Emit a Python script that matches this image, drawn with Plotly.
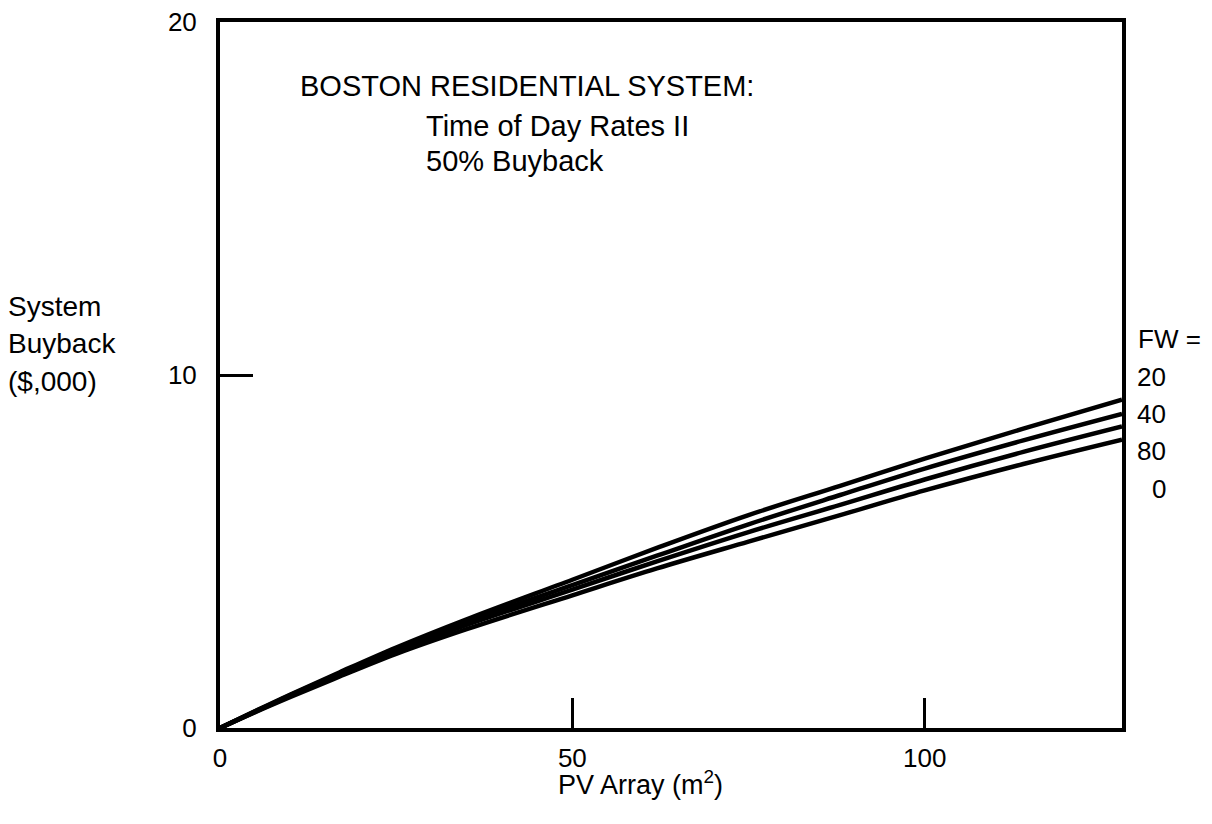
import plotly.graph_objects as go

# ---- data ----
pv_area = [0, 5, 10, 17, 25, 35, 50, 62, 75, 88, 100, 114, 128]
fw_20 = [0, 0.48, 0.95, 1.58, 2.28, 3.08, 4.20, 5.10, 6.03, 6.86, 7.63, 8.48, 9.30]
fw_40 = [0, 0.47, 0.93, 1.55, 2.23, 3.00, 4.05, 4.88, 5.77, 6.60, 7.35, 8.15, 8.90]
fw_80 = [0, 0.46, 0.91, 1.52, 2.18, 2.92, 3.92, 4.72, 5.55, 6.32, 7.04, 7.82, 8.54]
fw_0 = [0, 0.45, 0.88, 1.46, 2.10, 2.80, 3.76, 4.52, 5.28, 6.03, 6.73, 7.48, 8.17]
series_names = ["20", "40", "80", "0"]
x_ticks = [0, 50, 100]
y_ticks = [0, 10, 20]

# page is offset by the default 8px body margin
OFF = 8
W, H = 1212 - OFF, 824 - OFF
# plot frame in page pixels
L, R, T, B = 220, 1122, 22, 728
FONT = "Liberation Sans, Arial, sans-serif"


def px_x(px):
    return (px - L) / (R - L)


def px_y(py):
    return (B - py) / (B - T)


fig = go.Figure()
for name, ys in zip(series_names, [fw_20, fw_40, fw_80, fw_0]):
    fig.add_trace(go.Scatter(
        x=pv_area, y=ys, mode="lines", name="FW = " + name,
        line=dict(color="black", width=4.5, shape="spline", smoothing=1.0),
        showlegend=False,
    ))

fig.update_layout(
    width=W, height=H,
    margin=dict(l=L - OFF, r=W - (R - OFF), t=T - OFF, b=H - (B - OFF),
                autoexpand=False),
    paper_bgcolor="white", plot_bgcolor="white",
    font=dict(family=FONT, size=26, color="black"),
    xaxis=dict(
        range=[0, 128], tickvals=x_ticks, ticktext=[str(v) for v in x_ticks],
        ticks="inside", ticklen=30, tickwidth=3, tickcolor="black",
        showline=True, linecolor="black", linewidth=4, mirror=True,
        showgrid=False, zeroline=False, ticklabelstandoff=4,
        tickfont=dict(size=26), automargin=False, ticklabeloverflow="allow",
    ),
    yaxis=dict(
        range=[0, 20], tickvals=y_ticks, ticktext=[str(v) for v in y_ticks],
        ticks="inside", ticklen=33, tickwidth=3, tickcolor="black",
        showline=True, linecolor="black", linewidth=4, mirror=True,
        showgrid=False, zeroline=False, ticklabelstandoff=14,
        tickfont=dict(size=26), automargin=False, ticklabeloverflow="allow",
    ),
)

ann = []


def add_text(text, px, py, xanchor="left", size=26):
    ann.append(dict(
        text=text, x=px_x(px), y=px_y(py), xref="paper", yref="paper",
        xanchor=xanchor, yanchor="middle", showarrow=False,
        font=dict(family=FONT, size=size, color="black"),
    ))


# inset title
add_text("BOSTON RESIDENTIAL SYSTEM:", 298, 86, size=29)
add_text("Time of Day Rates II", 424, 126, size=29)
add_text("50% Buyback", 424, 161, size=29)

# y-axis title
add_text("System", 6, 306, size=28)
add_text("Buyback", 6, 343, size=28)
add_text("($,000)", 6, 381, size=28)

# x-axis title
add_text("PV Array (m<sup>2</sup>)", 640, 783, xanchor="center", size=27)

# series labels
add_text("FW =", 1136, 339)
add_text(series_names[0], 1168, 377, xanchor="right")
add_text(series_names[1], 1168, 414, xanchor="right")
add_text(series_names[2], 1168, 451, xanchor="right")
add_text(series_names[3], 1168, 489, xanchor="right")

fig.update_layout(annotations=ann)
fig.write_html("out.html")
